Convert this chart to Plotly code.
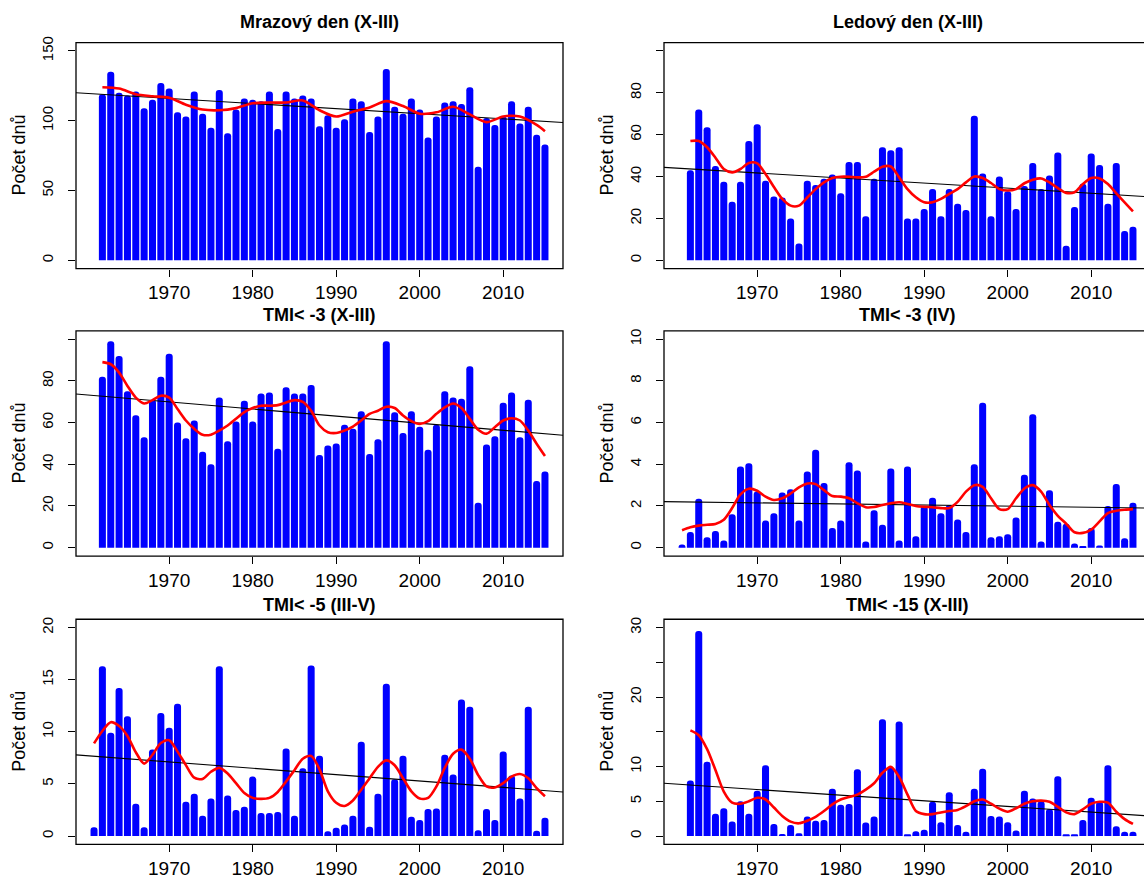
import plotly.graph_objects as go

# ---------------- data ----------------
years_62 = list(range(1962, 2016))
years_61 = list(range(1961, 2016))

titles = ["Mrazový den (X-III)", "Ledový den (X-III)", "TMI< -3 (X-III)",
          "TMI< -3 (IV)", "TMI< -5 (III-V)", "TMI< -15 (X-III)"]
y_title = "Počet dnů"

frost_days = [119, 135, 120, 118, 121, 109, 115, 127, 123, 106,
              103, 121, 105, 95, 122, 91, 108, 116, 115, 114,
              121, 94, 121, 116, 118, 116, 96, 104, 95, 101,
              116, 114, 92, 103, 137, 110, 105, 116, 108, 88,
              103, 113, 114, 112, 124, 67, 102, 97, 103, 114,
              98, 110, 90, 83]
frost_smooth_years = [1962, 1964, 1966, 1968, 1970, 1972, 1974, 1976, 1978, 1980,
                      1982, 1984, 1986, 1988, 1990, 1992, 1994, 1996, 1998, 2000,
                      2002, 2004, 2006, 2008, 2010, 2012, 2014, 2015]
frost_smooth = [124, 123, 119, 117.5, 116.5, 111.5, 108, 107.5, 109, 112.5,
                113, 113, 114.5, 107.5, 103, 106.5, 109.5, 114, 110.5, 105,
                106, 110, 104.5, 99, 103, 103, 97, 92.5]
frost_trend = [120, 98.7]

ice_days = [43, 72, 63.5, 45, 37.5, 28, 37.5, 57, 65, 38,
            30.5, 30, 20, 8, 38, 36, 39, 41, 32, 47,
            47, 21, 39, 54, 52.5, 54, 20, 20, 24.5, 34,
            21, 34, 27, 24, 69, 41.5, 21, 40, 33, 24.5,
            35.5, 46.5, 34, 40.5, 51.5, 7, 25.5, 36.5, 51, 45.5,
            27, 46.5, 14, 16]
ice_smooth = [57, 57, 54, 49, 43.6, 42, 43.6, 46.5, 46.3, 41.2,
              35, 29.3, 26.1, 26.1, 30, 34, 37.2, 39.3, 39.9, 39.9,
              39.6, 39.9, 42.3, 44.7, 44.8, 39.6, 34, 30.1, 27.7, 27.7,
              29.3, 31.7, 34, 37.2, 40, 39.3, 36.9, 34, 33.3, 34,
              36.8, 38.5, 39.1, 37.2, 34.5, 32.2, 32.5, 36.4, 39.3, 39.1,
              36.4, 32, 27.7, 23.4]
ice_trend = [44.4, 30.3]

tmi3_winter = [82, 99, 92, 75, 63.5, 53, 71, 82, 93, 60,
               52.5, 61, 46, 40, 72, 51, 60.5, 70.5, 60.5, 74,
               74.5, 47.5, 77, 74, 74, 78, 44.5, 49, 50, 59,
               57, 65.5, 45, 52, 99, 65, 55, 65.5, 58, 47,
               59, 75, 72, 71.5, 87, 21.5, 49.5, 53.5, 69.5, 74.5,
               53, 71, 32, 36.5]
tmi3_winter_smooth = [89, 88, 84, 77.6, 72, 69.2, 70.8, 72.9, 72, 66.5,
                      61, 57, 54.2, 54.2, 56.2, 58.6, 61.8, 65, 67, 68.1,
                      68.1, 68.4, 69.7, 70.8, 70, 65.7, 58.6, 55.4, 55, 56.2,
                      58.1, 61, 64.2, 65.7, 67.6, 67, 63.4, 60.7, 59.4, 60.7,
                      64.2, 67.3, 69.2, 67, 61.8, 56.6, 54.7, 57.8, 61, 62.1,
                      61, 56.2, 49.9, 44]
tmi3_winter_trend = [73.7, 53.9]

tmi3_april = [0.15, 0.75, 2.35, 0.5, 0.8, 0.35, 1.6, 3.9, 4.05, 2.7,
              1.3, 1.65, 2.65, 2.8, 1.3, 3.65, 4.7, 3.1, 0.95, 1.3,
              4.1, 3.7, 0.3, 1.8, 1.1, 3.8, 0.35, 3.9, 0.55, 2.0,
              2.4, 1.65, 2.05, 1.35, 0.75, 4.0, 6.95, 0.5, 0.55, 0.65,
              1.45, 3.5, 6.4, 0.3, 2.75, 1.25, 1.15, 0.2, 0.05, 0.95,
              0.1, 2.0, 3.05, 0.45, 2.15]
tmi3_april_smooth = [0.84, 0.98, 1.06, 1.1, 1.14, 1.34, 1.9, 2.56, 2.83, 2.73,
                     2.45, 2.29, 2.37, 2.6, 2.89, 3.08, 3.05, 2.76, 2.48, 2.45,
                     2.37, 2.13, 1.94, 1.95, 2.05, 2.13, 2.18, 2.1, 2.0, 1.96,
                     1.94, 1.9, 1.9, 2.2, 2.69, 3.0, 2.92, 2.37, 1.85, 1.85,
                     2.37, 2.84, 3.0, 2.69, 2.05, 1.53, 1.15, 0.74, 0.71, 0.87,
                     1.26, 1.66, 1.77, 1.82, 1.85]
tmi3_april_trend = [2.21, 1.9]

tmi5_spring = [0.85, 16.3, 9.9, 14.2, 11.5, 3.1, 0.85, 8.3, 11.8, 10.4,
               12.7, 3.3, 4.05, 1.95, 3.6, 16.3, 3.9, 2.5, 2.8, 5.7,
               2.2, 2.2, 2.3, 8.4, 1.95, 6.5, 16.35, 7.7, 0.45, 0.8,
               1.1, 1.95, 9.05, 0.9, 4.05, 14.6, 5.45, 7.7, 1.85, 1.55,
               2.6, 2.65, 7.8, 5.9, 13.1, 12.4, 0.55, 2.6, 1.55, 8.1,
               5.8, 3.6, 12.4, 0.5, 1.75]
tmi5_spring_smooth = [8.89, 10.08, 10.92, 10.55, 9.6, 8.04, 6.95, 7.8, 8.92, 9.2,
                      8.1, 6.8, 5.6, 5.48, 6.17, 6.54, 6.0, 5.07, 4.13, 3.66,
                      3.57, 3.66, 4.23, 5.23, 6.32, 7.42, 7.67, 6.4, 4.29, 3.19,
                      2.88, 3.41, 4.44, 5.54, 6.64, 7.26, 6.79, 5.54, 4.29, 3.6,
                      3.66, 4.76, 6.54, 7.89, 8.29, 7.42, 5.85, 4.76, 4.66, 5.07,
                      5.7, 5.95, 5.54, 4.6, 3.82]
tmi5_spring_trend = [7.79, 4.23]

tmi15_winter = [8.0, 29.5, 10.7, 3.2, 4.0, 2.1, 5.0, 3.2, 6.5, 10.2,
                1.75, 0.3, 1.6, 0.4, 2.8, 2.2, 2.3, 6.8, 4.5, 4.6,
                9.6, 1.95, 2.8, 16.8, 9.9, 16.5, 0.25, 0.7, 0.9, 4.95,
                2.0, 6.3, 1.6, 0.6, 6.8, 9.7, 2.9, 2.8, 2.0, 0.8,
                6.5, 5.4, 5.0, 3.9, 8.6, 0.15, 0.15, 2.3, 5.5, 4.95,
                10.2, 1.4, 0.6, 0.6]
tmi15_winter_smooth = [15.2, 14.5, 12.5, 9.5, 6.4, 4.8, 4.65, 5.0, 5.5, 5.26,
                       4.1, 2.9, 2.07, 1.83, 2.2, 2.77, 3.6, 4.55, 5.26, 5.6,
                       5.96, 6.67, 7.6, 9.1, 9.95, 8.5, 5.96, 3.6, 3.15, 3.15,
                       3.4, 3.6, 3.76, 4.3, 5.0, 5.26, 4.65, 3.94, 3.5, 4.0,
                       4.65, 5.0, 5.1, 4.93, 4.2, 3.4, 3.15, 3.85, 4.65, 4.93,
                       4.8, 3.5, 2.44, 1.74]
tmi15_winter_trend = [7.6, 2.87]

x_ticks = [1970, 1980, 1990, 2000, 2010]
x_full = [1958.84, 2017.16]

y_tickvals = [[0, 50, 100, 150], [0, 20, 40, 60, 80, 100], [0, 20, 40, 60, 80, 100],
              [0, 2, 4, 6, 8, 10], [0, 5, 10, 15, 20], [0, 5, 10, 15, 20, 25, 30]]
y_ticktext = [["0", "50", "100", "150"], ["0", "20", "40", "60", "80", ""],
              ["0", "20", "40", "60", "80", ""], ["0", "2", "4", "6", "8", "10"],
              ["0", "5", "10", "15", "20"], ["0", "5", "10", "", "20", "", "30"]]
y_ranges = [[-6, 156], [-4, 104], [-4, 104], [-0.4, 10.4], [-0.8, 20.8], [-1.2, 31.2]]

panels = [
    (years_62, frost_days, frost_smooth_years, frost_smooth, frost_trend),
    (years_62, ice_days, years_62, ice_smooth, ice_trend),
    (years_62, tmi3_winter, years_62, tmi3_winter_smooth, tmi3_winter_trend),
    (years_61, tmi3_april, years_61, tmi3_april_smooth, tmi3_april_trend),
    (years_61, tmi5_spring, years_61, tmi5_spring_smooth, tmi5_spring_trend),
    (years_62, tmi15_winter, years_62, tmi15_winter_smooth, tmi15_winter_trend),
]

# ---------------- layout geometry (pixels) ----------------
W, H = 1144, 879
col_px = [(76, 563), (664, 1144)]
row_px = [(37, 266), (329, 557), (621, 849)]
title_y_px = [16, 313, 607]
px_per_year = (563 - 76) / (x_full[1] - x_full[0])
x_ranges = [x_full, [x_full[0], x_full[0] + (1144 - 664) / px_per_year]]

FONT = "Liberation Sans, Arial, sans-serif"
fig = go.Figure()
shapes = []
annotations = []

for i, (yrs, vals, syrs, svals, trend) in enumerate(panels):
    r, c = divmod(i, 2)
    ax = "" if i == 0 else str(i + 1)
    xa, ya = "x" + ax, "y" + ax
    fig.add_trace(go.Bar(x=yrs, y=vals, width=0.84, xaxis=xa, yaxis=ya,
                         marker=dict(color="#0000FF", line=dict(width=0), cornerradius=3),
                         showlegend=False, hoverinfo="x+y"))
    fig.add_trace(go.Scatter(x=x_full, y=trend, mode="lines", xaxis=xa, yaxis=ya,
                             line=dict(color="black", width=1.1), showlegend=False))
    fig.add_trace(go.Scatter(x=syrs, y=svals, mode="lines", xaxis=xa, yaxis=ya,
                             line=dict(color="#FF0000", width=2.6, shape="spline", smoothing=0.8),
                             showlegend=False))
    x0, x1 = col_px[c]
    t0, t1 = row_px[r]
    dom_x = [x0 / W, x1 / W]
    dom_y = [1 - t1 / H, 1 - t0 / H]
    fig.layout["xaxis" + ax] = dict(
        domain=dom_x, range=x_ranges[c], anchor=ya, tickmode="array", tickvals=x_ticks,
        ticks="outside", ticklen=7, tickwidth=1, tickcolor="black", showgrid=False,
        zeroline=False, showline=False, tickfont=dict(size=19, color="black", family=FONT))
    fig.layout["yaxis" + ax] = dict(
        domain=dom_y, range=y_ranges[i], anchor=xa, tickmode="array",
        tickvals=y_tickvals[i], ticktext=y_ticktext[i], tickangle=-90,
        ticks="outside", ticklen=7, tickwidth=1, tickcolor="black", showgrid=False,
        zeroline=False, showline=False, ticklabelstandoff=9,
        tickfont=dict(size=15, color="black", family=FONT))
    shapes.append(dict(type="rect", xref=xa + " domain", yref=ya + " domain",
                       x0=0, x1=(1 if c == 0 else 1.1), y0=0, y1=1,
                       line=dict(color="black", width=1.3), layer="above"))
    full_w = 487
    annotations.append(dict(text="<b>" + titles[i] + "</b>", xref="paper", yref="paper",
                            x=(x0 + full_w / 2) / W, y=1 - title_y_px[r] / H,
                            xanchor="center", yanchor="middle", showarrow=False,
                            font=dict(size=18, color="black", family=FONT)))
    annotations.append(dict(text=y_title, xref="paper", yref="paper",
                            x=(x0 - 57) / W, y=1 - ((t0 + t1) / 2) / H, textangle=-90,
                            xanchor="center", yanchor="middle", showarrow=False,
                            font=dict(size=18, color="black", family=FONT)))

fig.update_layout(width=W, height=H, margin=dict(l=0, r=0, t=0, b=0),
                  paper_bgcolor="white", plot_bgcolor="white",
                  shapes=shapes, annotations=annotations,
                  font=dict(family=FONT, color="black"))

fig.write_html("out.html", config={"displayModeBar": False},
               post_script="document.body.style.margin='0';document.body.style.overflow='hidden';")
